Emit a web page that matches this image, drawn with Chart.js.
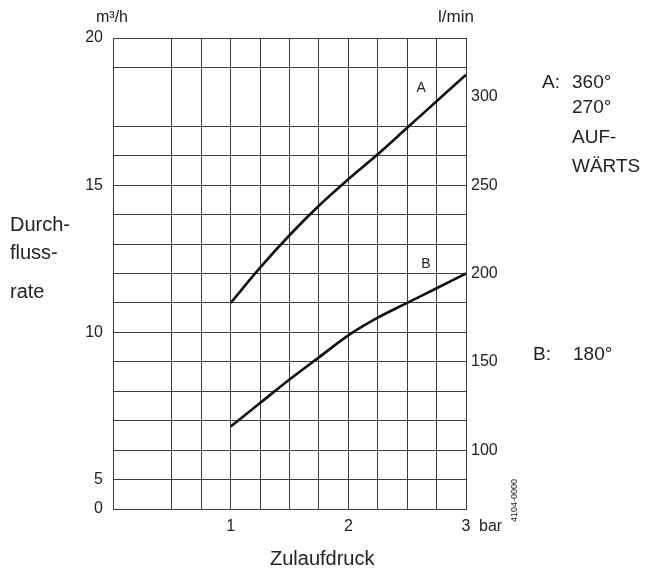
<!DOCTYPE html>
<html>
<head>
<meta charset="utf-8">
<script src="https://cdn.jsdelivr.net/npm/chart.js@4"></script>
<style>
  body { margin: 0; background: #fff; }
  #wrap { width: 647px; height: 572px; }
</style>
</head>
<body>
<div id="wrap"><canvas id="flowChart"></canvas></div>
<script>
// Data (x in bar, y in m³/h)
const pressureBar = [1, 1.25, 1.5, 1.75, 2, 2.25, 2.5, 2.75, 3];
const flowA = [11.0, 12.2, 13.3, 14.3, 15.2, 16.05, 16.95, 17.85, 18.75];
const flowB = [6.8, 7.6, 8.4, 9.15, 9.9, 10.5, 11.0, 11.5, 12.0];

// Axis ticks / grid
const xGrid = [0, 0.5, 0.75, 1, 1.25, 1.5, 1.75, 2, 2.25, 2.5, 2.75, 3];
const xLabels = [1, 2, 3];
const yGrid = [4, 5, 6, 7, 8, 9, 10, 11, 12, 13, 14, 15, 16, 17, 19, 20];
const yLabels = [5, 10, 15, 20];
const yBreakValue = 4;       // bottom of the broken axis, labelled "0"
const lminTicks = [100, 150, 200, 250, 300];

const FONT = '"Liberation Sans", Arial, Helvetica, sans-serif';
const TEXT = '#222';
const GRID = '#3c3c3c';
const M3H_TO_LMIN = 1000 / 60;

function font(size) {
  return size + 'px ' + FONT;
}

// free text around the chart
const textPlugin = {
  id: 'diagramText',
  afterDraw(chart) {
    const ctx = chart.ctx;
    const sx = chart.scales.x;
    const sy = chart.scales.y;
    ctx.save();
    ctx.fillStyle = TEXT;
    ctx.textBaseline = 'alphabetic';
    ctx.textAlign = 'left';

    // units on top
    ctx.font = font(16);
    ctx.fillText('m³/h', 96, 22);
    ctx.font = font(17);
    ctx.fillText('l/min', 438, 22);

    // bar unit after last tick
    ctx.font = font(16);
    ctx.fillText('bar', 479, 531);

    // left title
    ctx.font = font(20);
    ctx.fillText('Durch-', 10, 231);
    ctx.fillText('fluss-', 10, 259);
    ctx.fillText('rate', 10, 298);

    // bottom title
    ctx.fillText('Zulaufdruck', 270, 565);

    // curve letters
    ctx.font = font(14);
    ctx.textAlign = 'center';
    ctx.textBaseline = 'middle';
    ctx.fillText('A', sx.getPixelForValue(2.62), sy.getPixelForValue(18.3));
    ctx.fillText('B', sx.getPixelForValue(2.66), sy.getPixelForValue(12.32));

    // legend on the right
    ctx.font = font(19);
    ctx.textAlign = 'left';
    ctx.textBaseline = 'alphabetic';
    ctx.fillText('A:', 542, 88);
    ctx.fillText('360°', 572, 88);
    ctx.fillText('270°', 572, 113);
    ctx.fillText('AUF-', 572, 143);
    ctx.fillText('WÄRTS', 572, 172);
    ctx.fillText('B:', 533, 360);
    ctx.fillText('180°', 573, 360);

    // drawing number, rotated
    ctx.translate(517, 522);
    ctx.rotate(-Math.PI / 2);
    ctx.font = font(9);
    ctx.fillText('4104-0000', 0, 0);
    ctx.restore();
  }
};

const ctx = document.getElementById('flowChart').getContext('2d');
const chart = new Chart(ctx, {
  type: 'line',
  data: {
    datasets: [
      {
        label: 'A',
        data: pressureBar.map((p, i) => ({ x: p, y: flowA[i] })),
        borderColor: '#111',
        borderWidth: 2.6,
        pointRadius: 0,
        tension: 0.4,
        cubicInterpolationMode: 'monotone',
        fill: false,
        yAxisID: 'y'
      },
      {
        label: 'B',
        data: pressureBar.map((p, i) => ({ x: p, y: flowB[i] })),
        borderColor: '#111',
        borderWidth: 2.6,
        pointRadius: 0,
        tension: 0.4,
        cubicInterpolationMode: 'monotone',
        fill: false,
        yAxisID: 'y'
      }
    ]
  },
  options: {
    responsive: true,
    maintainAspectRatio: false,
    animation: false,
    layout: { padding: { top: 38, left: 0, right: 0, bottom: 0 } },
    plugins: {
      legend: { display: false },
      tooltip: { enabled: false }
    },
    scales: {
      x: {
        type: 'linear',
        position: 'bottom',
        min: 0,
        max: 3,
        afterBuildTicks: (s) => { s.ticks = xGrid.map(v => ({ value: v })); },
        afterFit: (s) => { s.height = 63; },
        grid: { color: GRID, lineWidth: 1, drawTicks: false },
        border: { display: true, color: GRID, width: 1 },
        ticks: {
          autoSkip: false,
          maxRotation: 0,
          padding: 8,
          color: TEXT,
          font: { family: FONT, size: 16 },
          callback: (v) => xLabels.includes(v) ? String(v) : ''
        }
      },
      y: {
        type: 'linear',
        position: 'left',
        min: yBreakValue,
        max: 20,
        afterBuildTicks: (s) => { s.ticks = yGrid.map(v => ({ value: v })); },
        afterFit: (s) => { s.width = 113; },
        grid: { color: GRID, lineWidth: 1, drawTicks: false },
        border: { display: true, color: GRID, width: 1 },
        ticks: {
          autoSkip: false,
          padding: 10,
          color: TEXT,
          font: { family: FONT, size: 16 },
          callback: (v) => v === yBreakValue ? '0' : (yLabels.includes(v) ? String(v) : '')
        }
      },
      y2: {
        type: 'linear',
        position: 'right',
        min: yBreakValue * M3H_TO_LMIN,
        max: 20 * M3H_TO_LMIN,
        afterBuildTicks: (s) => { s.ticks = lminTicks.map(v => ({ value: v })); },
        afterFit: (s) => { s.width = 181; },
        grid: { display: false, drawTicks: false },
        border: { display: true, color: GRID, width: 1 },
        ticks: {
          autoSkip: false,
          padding: 5,
          color: TEXT,
          font: { family: FONT, size: 16 },
          callback: (v) => String(v)
        }
      }
    }
  },
  plugins: [textPlugin]
});
</script>
</body>
</html>
